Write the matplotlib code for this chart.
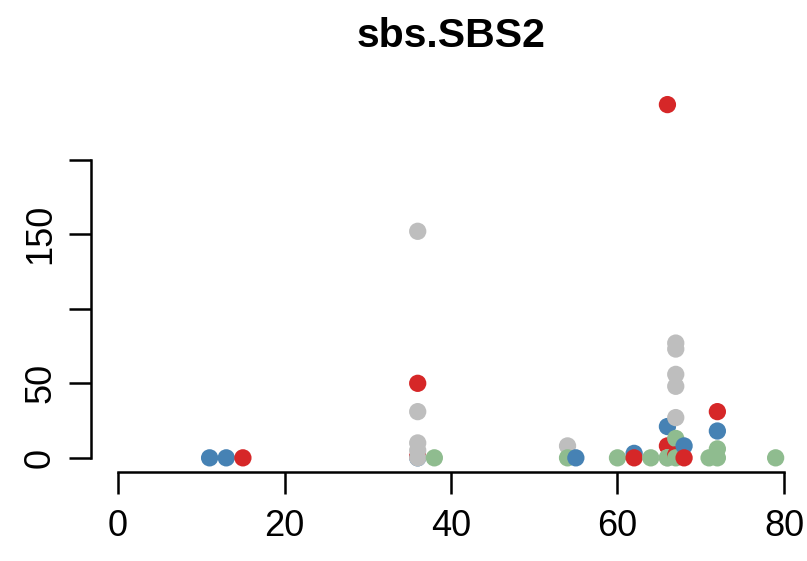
import numpy as np
import matplotlib.pyplot as plt

# ---------------------------------------------------------------
# Datos: edad, valor SBS2 y grupo de cada punto
# ---------------------------------------------------------------
ages = [11, 13, 15,
        36, 36, 36, 36, 36, 36, 36, 36, 38,
        54, 54, 55,
        60, 62, 62, 64,
        66, 66, 66, 66, 66,
        67, 67, 67, 67, 67, 67, 67, 67,
        68, 68,
        71, 72, 72, 72, 72, 79]
values = [0, 0, 0,
          0, 1, 50, 152, 31, 10, 5, 0, 0,
          8, 0, 0,
          0, 3, 0, 0,
          237, 21, 8, 0, 0,
          77, 73, 56, 48, 27, 13, 2, 0,
          8, 0,
          0, 31, 18, 6, 0, 0]
groups = ["b", "b", "r",
          "b", "r", "r", "g", "g", "g", "g", "g", "n",
          "g", "n", "b",
          "n", "b", "r", "n",
          "r", "b", "r", "g", "n",
          "g", "g", "g", "g", "g", "n", "r", "n",
          "b", "r",
          "n", "r", "b", "n", "n", "n"]

palette = {"b": "#4682B4", "r": "#D62728", "g": "#BEBEBE", "n": "#8FBC8F"}
cols = [palette[g] for g in groups]

plt.rcParams["font.family"] = ["Liberation Sans", "DejaVu Sans"]

fig = plt.figure(figsize=(8.07, 5.61), dpi=100)
# region del grafico en pixeles: x 91..811, y 90..472
ax = fig.add_axes([91.4 / 807, 1 - 472 / 561, 719.2 / 807, 382.3 / 561])

ax.scatter(ages, values, c=cols, s=155, linewidths=0, zorder=3)

ax.set_xlim(-3.2, 83.2)
ax.set_ylim(-9.5, 247)

for s in ["top", "right"]:
    ax.spines[s].set_visible(False)
ax.spines["left"].set_bounds(0, 200)
ax.spines["bottom"].set_bounds(0, 80)
ax.spines["left"].set_linewidth(1.8)
ax.spines["bottom"].set_linewidth(1.8)

ax.set_xticks([0, 20, 40, 60, 80])
ax.set_yticks([0, 50, 100, 150, 200])
ax.set_yticklabels(["0", "50", "", "150", ""], rotation=90, va="center")
ax.tick_params(axis="both", length=16, width=1.8, labelsize=26)
ax.tick_params(axis="x", pad=11)
ax.tick_params(axis="y", pad=8)

ax.set_title("sbs.SBS2", fontsize=29.5, fontweight="bold", pad=31)

plt.savefig("out.png", dpi=100)
